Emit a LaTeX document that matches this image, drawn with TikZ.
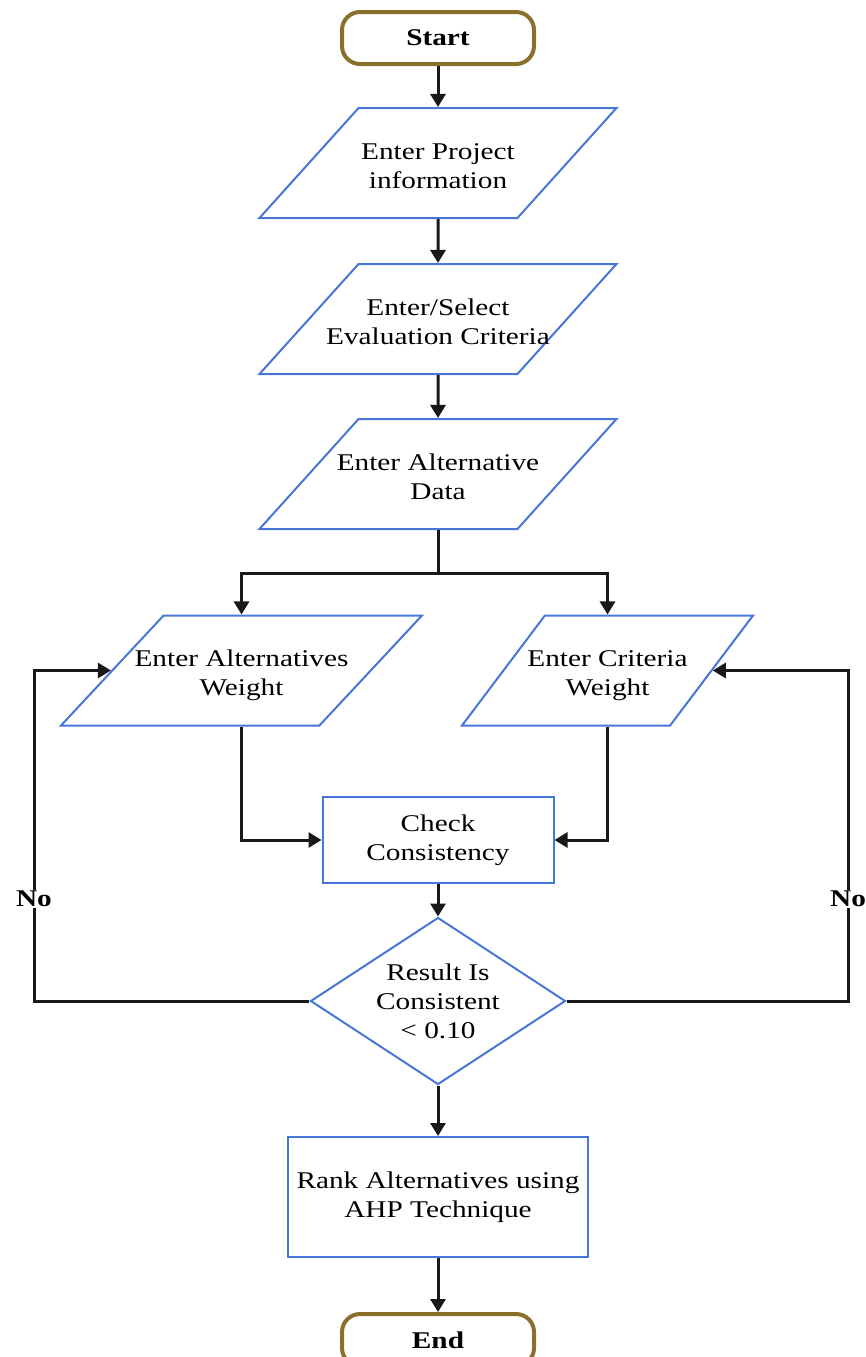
\documentclass[tikz,border=0pt]{standalone}
\usepackage{fontspec}
\setmainfont{Liberation Serif}[FakeStretch=1.22]
\usepackage{xcolor}
\definecolor{shapeblue}{RGB}{72,118,214}
\definecolor{termgold}{RGB}{138,112,42}
\usepackage{tikz}
\usetikzlibrary{arrows.meta}
\usetikzlibrary{shapes.geometric}
\newcommand{\textsize}{\fontsize{24}{29}\selectfont}
\newcommand{\widthterm}{192}
\newcommand{\widthio}{357}
\newcommand{\heightio}{110}
\tikzset{
    common/.style={draw=shapeblue, line width=2pt, align=center, font=\textsize, inner sep=2pt},
    terminal/.style={common, draw=termgold, line width=4pt, rectangle, rounded corners=18pt, minimum width=\widthterm, minimum height=52, font=\textsize\bfseries},
    io/.style={common, trapezium, trapezium stretches body=true, trapezium left angle=48, trapezium right angle=132, inner xsep=-60pt, inner ysep=2pt, text height=78, text depth=28, minimum width=\widthio, minimum height=\heightio},
    process/.style={common, rectangle},
    decision/.style={common, diamond, aspect=1.53, minimum width=255, minimum height=167, inner sep=0pt},
    answer/.style={fill=white, inner sep=1pt, font=\textsize\bfseries},
    link/.style={line width=3pt, black!90},
    flow/.style={link, -{Triangle[length=13pt, width=15pt]}}
}

\begin{document}
\begin{tikzpicture}[x=1pt, y=1pt]
    \useasboundingbox (0,0) rectangle (865,-1357);

    \path
        (438,-38) node[terminal] (start) {Start}
        ++(0,-125) node[io] (info) {Enter Project\\information}
        ++(0,-156) node[io] (criteria) {Enter/Select\\Evaluation Criteria}
        ++(0,-155) node[io] (altdata) {Enter Alternative\\Data}
        ++(0,-99) coordinate (split);

    \path
        (241.5,-670.5) node[io, minimum width=361, trapezium left angle=47, trapezium right angle=133] (altweight) {Enter Alternatives\\Weight}
        ++(366,0) node[io, minimum width=291, trapezium left angle=53, trapezium right angle=127] (critweight) {Enter Criteria\\Weight};

    \path
        (438,-840) node[process, minimum width=231, minimum height=86] (check) {Check\\Consistency}
        ++(0,-161) node[decision] (consistent) {Result Is\\Consistent\\< 0.10}
        ++(0,-196) node[process, minimum width=300, minimum height=120] (rank) {Rank Alternatives using\\AHP Technique}
        ++(0,-143) node[terminal] (stop) {End};

    \node[answer] (noleft) at (34,-899) {No};
    \node[answer] (noright) at (848,-899) {No};

    \draw[flow] (start) -- (info);
    \draw[flow] (info) -- (criteria);
    \draw[flow] (criteria) -- (altdata);
    \draw[link] (altdata) -- (split);
    \draw[flow] (split) -| (altweight);
    \draw[flow] (split) -| (critweight);
    \draw[flow] (altweight) |- (check);
    \draw[flow] (critweight) |- (check);
    \draw[flow] (check) -- (consistent);
    \draw[flow] (consistent) -- (rank);
    \draw[flow] (rank) -- (stop);

    \draw[link] (consistent) -| (noleft);
    \draw[flow] (noleft) |- (altweight);
    \draw[link] (consistent) -| (noright);
    \draw[flow] (noright) |- (critweight);
\end{tikzpicture}
\end{document}
